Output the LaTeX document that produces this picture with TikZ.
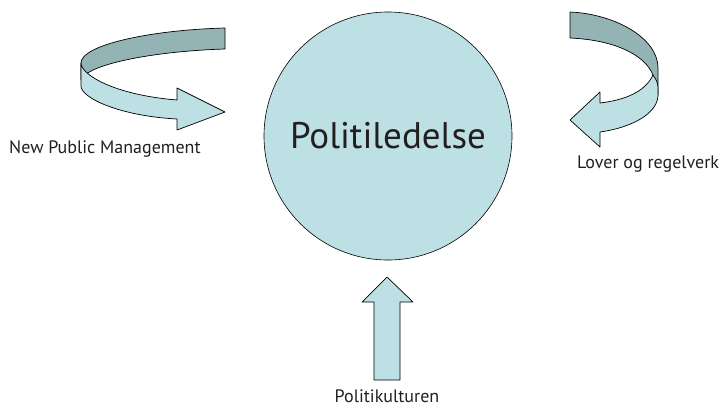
\documentclass[tikz,border=0pt]{standalone}
\usepackage{fontspec}
\setmainfont{PT Sans}
\definecolor{bandlight}{RGB}{189,224,228}
\definecolor{banddark}{RGB}{148,179,181}
\definecolor{inktext}{RGB}{35,31,32}
\tikzset{
  ribbonfront/.style={fill=bandlight, draw=black, line width=0.7pt, line join=round},
  ribbonback/.style={fill=banddark, draw=black, line width=0.7pt, line join=round},
  hubnode/.style={circle, fill=bandlight, draw=black, line width=0.6pt, minimum size=248pt, inner sep=0pt,
    font=\fontsize{37}{40}\selectfont, text=inktext},
  caption/.style={font=\fontsize{18}{20}\selectfont, text=inktext, inner sep=0pt}
}
\begin{document}
\begin{tikzpicture}[x=1pt, y=-1pt]
\useasboundingbox (0,0) rectangle (721,407);

% central circle
\node[hubnode] (hub) at (388,136) {Politiledelse};

% left ribbon arrow: back band, then front band with head
\path[ribbonback] (225,28) .. controls (150,30) and (81,45) .. (81,63) -- (81,80) -- (85,75)
  .. controls (100,62) and (160,51) .. (225,49) -- cycle;
\path[ribbonfront] (81,63) .. controls (81,75) and (115,95) .. (177,100) -- (177,88) -- (225,112)
  -- (177,130) -- (177,119) .. controls (120,116) and (81,98) .. (81,86) -- cycle;

% right ribbon arrow
\path[ribbonback] (570,12) .. controls (615,14) and (658,38) .. (658,68) -- (658,95) -- (653,75)
  .. controls (645,55) and (615,40) .. (570,38) -- cycle;
\path[ribbonfront] (653,75) .. controls (645,92) and (625,100) .. (600,103) -- (600,92) -- (570,120)
  -- (600,147) -- (600,132) .. controls (635,127) and (658,112) .. (658,95) -- (658,87)
  .. controls (657,81) .. (653,75) -- cycle;

% upward block arrow
\path[ribbonfront] (374,380) -- (374,302) -- (362,302) -- (387,277) -- (413,302) -- (400,302)
  -- (400,380) -- cycle;

% labels
\node[caption, anchor=base west] (npm) at (9,153) {New Public Management};
\node[caption, anchor=base west] (lov) at (577,168) {Lover og regelverk};
\node[caption, anchor=base] (kul) at (387,402) {Politikulturen};
\end{tikzpicture}
\end{document}
